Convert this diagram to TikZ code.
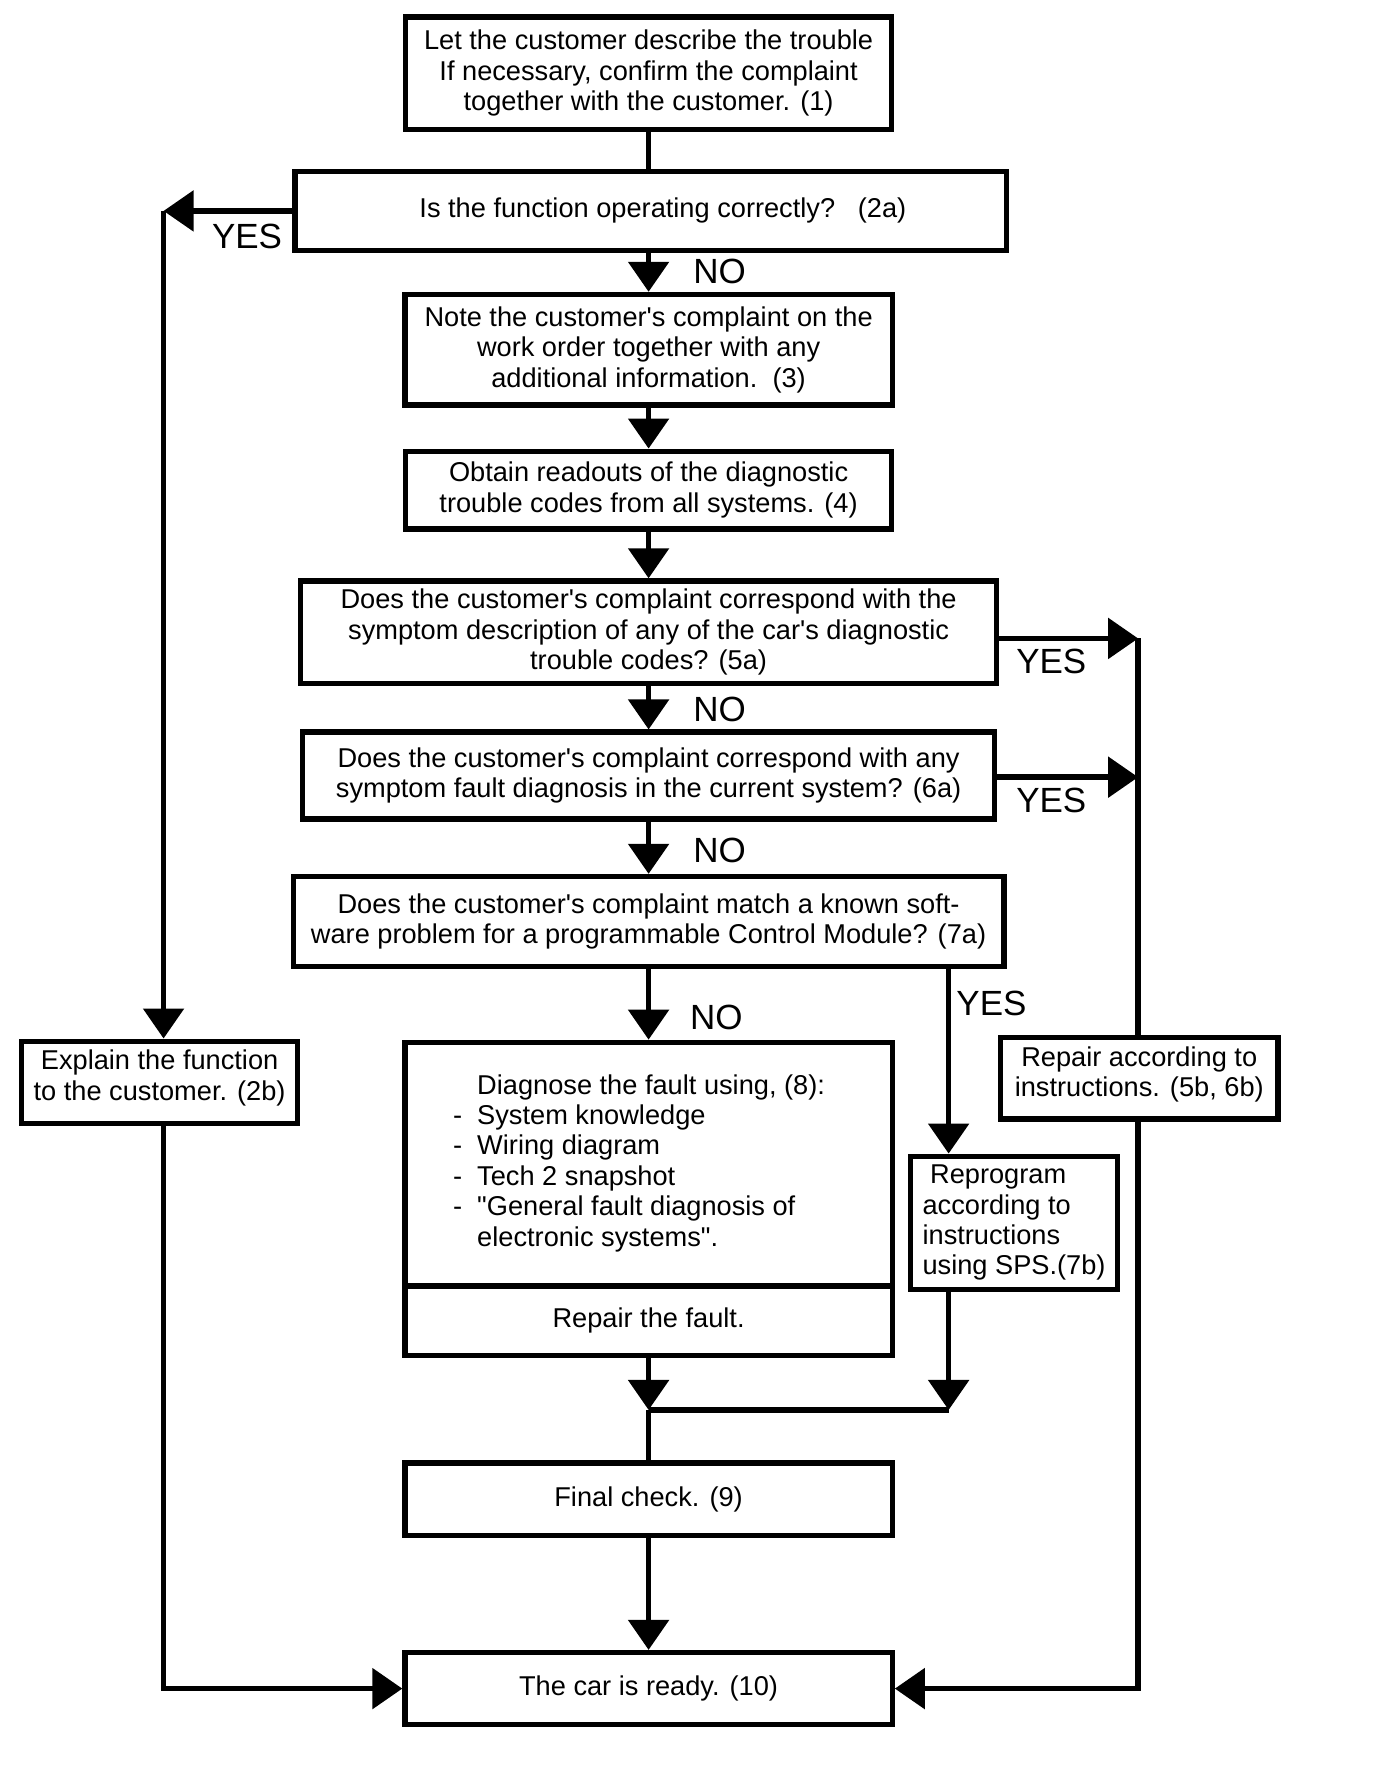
\documentclass[tikz,border=0pt]{standalone}
\usepackage{fontspec}
\newfontfamily\flowfont{Liberation Sans}
\usetikzlibrary{arrows.meta}

\begin{document}
\begin{tikzpicture}[x=0.564pt, y=-0.564pt,
    every node/.style={inner sep=0pt},
    boxsize/.style 2 args={minimum width=#1*0.564pt, minimum height=#2*0.564pt},
    box/.style={draw, line width=2.6pt, align=center, font=\flowfont\fontsize{13.6}{15.2}\selectfont},
    answer/.style={font=\flowfont\fontsize{17.5}{20}\selectfont},
    link/.style={line width=2.7pt},
    arr/.style={link, -{Triangle[length=15pt, width=20pt]}}]
    \useasboundingbox (0, 0) rectangle (1220, 1567.4);

    % main column
    \node [box, boxsize={431}{100}] (tell) at (575, 65) {Let the customer describe the trouble\\If necessary, confirm the complaint\\together with the customer. (1)};
    \node [box, boxsize={631}{70}] (works) at (577, 187) {\hspace*{12pt}Is the function operating correctly?\ \ \ (2a)};
    \node [box, boxsize={432}{98}] (note) at (575, 310) {Note the customer's complaint on the\\work order together with any\\additional information.\ \ (3)};
    \node [box, boxsize={431}{69}] (codes) at (575, 434.5) {Obtain readouts of the diagnostic\\trouble codes from all systems. (4)};
    \node [box, boxsize={617}{91}] (dtc) at (575, 560.5) {Does the customer's complaint correspond with the\\symptom description of any of the car's diagnostic\\trouble codes? (5a)};
    \node [box, boxsize={613}{77}] (symptom) at (575, 687.5) {Does the customer's complaint correspond with any\\symptom fault diagnosis in the current system? (6a)};
    \node [box, boxsize={630}{80}] (software) at (575, 817) {Does the customer's complaint match a known soft-\\ware problem for a programmable Control Module? (7a)};
    \node [box, boxsize={432}{216}] (diagnose) at (575, 1032) {\begin{tabular}{@{}l@{\hspace{7.5pt}}l@{\hspace{9.5pt}}}
        & Diagnose the fault using, (8):\\
      - & System knowledge\\
      - & Wiring diagram\\
      - & Tech 2 snapshot\\
      - & "General fault diagnosis of\\
        & electronic systems".
      \end{tabular}};
    \node [box, boxsize={432}{62}] (fixit) at (575, 1171) {Repair the fault.};
    \node [box, boxsize={432}{64}] (final) at (575, 1329) {Final check. (9)};
    \node [box, boxsize={432}{64}] (ready) at (575, 1497) {The car is ready. (10)};

    % side boxes
    \node [box, boxsize={245}{73}] (explain) at (141.5, 959.5) {Explain the function\\to the customer. (2b)\rule[-7pt]{0pt}{7pt}};
    \node [box, boxsize={246}{72}] (repair) at (1010, 956) {Repair according to\\instructions. (5b, 6b)\rule[-7pt]{0pt}{7pt}};
    \node [box, boxsize={184}{118}, align=left] (reprogram) at (899, 1084) {\ Reprogram\\according to\\instructions\\using SPS.(7b)};

    \coordinate (yes2) at (145, 187);
    \coordinate (yes5) at (1009, 566);
    \coordinate (yes6) at (1009, 689);
    \coordinate (yes7) at (841, 0);
    \coordinate (merge) at (575, 1250);

    % connectors
    \draw [link] (tell) -- (tell |- works.north);
    \draw [arr] (works.south -| note) -- (note);
    \draw [arr] (note) -- (codes);
    \draw [arr] (codes) -- (dtc);
    \draw [arr] (dtc) -- (symptom);
    \draw [arr] (symptom) -- (software);
    \draw [arr] (software) -- (diagnose);
    \draw [arr] (fixit) -- (merge);
    \draw [link] (merge) -- (final);
    \draw [arr] (final) -- (ready);

    \draw [arr] (works) -- (yes2);
    \draw [arr] (yes2) -- (yes2 |- explain.north);
    \draw [arr] (explain.south -| yes2) -- (yes2 |- ready.west) -- (ready.west);

    \draw [arr] (dtc.east |- yes5) -- (yes5);
    \draw [arr] (symptom.east |- yes6) -- (yes6);
    \draw [link] (yes5) -- (yes5 |- repair.north);
    \draw [arr] (repair.south -| yes5) -- (yes5 |- ready.east) -- (ready.east);

    \draw [arr] (software.south -| yes7) -- (reprogram.north -| yes7);
    \draw [arr] (reprogram.south -| yes7) -- (merge -| yes7);
    \draw [link] (merge) -- (merge -| yes7);

    % answers
    \node [answer] (a2yes) at (219, 210) {YES};
    \node [answer] (a2no) at (638, 241) {NO};
    \node [answer] (a5yes) at (932, 586) {YES};
    \node [answer] (a5no) at (638, 629) {NO};
    \node [answer] (a6yes) at (932, 710) {YES};
    \node [answer] (a6no) at (638, 754) {NO};
    \node [answer] (a7yes) at (879, 890) {YES};
    \node [answer] (a7no) at (635, 902) {NO};
\end{tikzpicture}
\end{document}
